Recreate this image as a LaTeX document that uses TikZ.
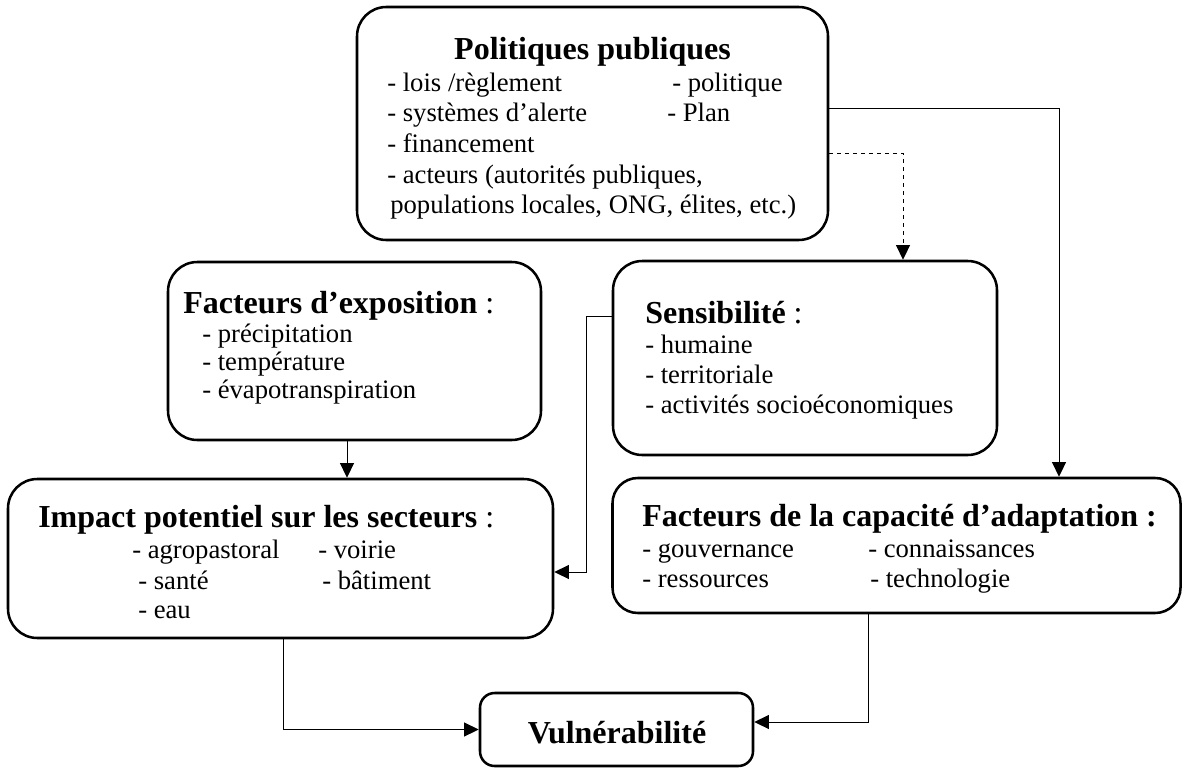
\documentclass[tikz,border=0pt]{standalone}
\usepackage{fontspec}
\setmainfont{Liberation Serif}
\usetikzlibrary{arrows.meta}
\begin{document}
\begin{tikzpicture}[x=0.75pt,y=-0.75pt,
  box/.style={draw, line width=1.9pt, rounded corners=22pt, inner sep=0pt},
  conn/.style={line width=0.75pt, -{Triangle[length=11pt,width=10.5pt]}},
  txt/.style={anchor=base west, inner sep=0pt, font=\fontsize{20}{24}\selectfont},
  ttl/.style={anchor=base west, inner sep=0pt, font=\fontsize{24}{28}\selectfont},
]
\useasboundingbox (0,0) rectangle (1184,767);
% boxes
\node[box, minimum width=353.25pt, minimum height=174.75pt] (P) at (592.5,123.5) {};
\node[box, minimum width=279.75pt, minimum height=133.5pt] (E) at (354.5,351) {};
\node[box, minimum width=288pt, minimum height=145.5pt] (S) at (805,358) {};
\node[box, minimum width=408.75pt, minimum height=119.25pt] (I) at (280.5,558.5) {};
\node[box, minimum width=426pt, minimum height=101.25pt, rounded corners=19pt] (C) at (896.5,545.5) {};
\node[box, minimum width=204.75pt, minimum height=54.75pt, rounded corners=11pt] (V) at (616.5,729.5) {};
% Politiques
\node[ttl, anchor=base] (Pt) at (592.5,60) {\textbf{Politiques publiques}};
\node[txt] (P1) at (387,91) {- lois /règlement};
\node[txt] (P2) at (672,91) {- politique};
\node[txt] (P3) at (387,121) {- systèmes d’alerte};
\node[txt] (P4) at (667,121) {- Plan};
\node[txt] (P5) at (387,152) {- financement};
\node[txt] (P6) at (387,183) {- acteurs (autorités publiques,};
\node[txt] (P7) at (390,213) {populations locales, ONG, élites, etc.)};
% Exposition
\node[ttl] (Et) at (183,313) {\textbf{Facteurs d’exposition} :};
\node[txt] (E1) at (202,342) {- précipitation};
\node[txt] (E2) at (202,370) {- température};
\node[txt] (E3) at (202,398) {- évapotranspiration};
% Sensibilite
\node[ttl] (St) at (645,323) {\textbf{Sensibilité} :};
\node[txt] (S1) at (645,353) {- humaine};
\node[txt] (S2) at (645,383) {- territoriale};
\node[txt] (S3) at (645,413) {- activités socioéconomiques};
% Impact
\node[ttl] (It) at (38,527) {\textbf{Impact potentiel sur les secteurs} :};
\node[txt] (I1) at (132,558) {- agropastoral};
\node[txt] (I2) at (318,558) {- voirie};
\node[txt] (I3) at (138,589) {- santé};
\node[txt] (I4) at (322,589) {- bâtiment};
\node[txt] (I5) at (138,618) {- eau};
% Capacite
\node[ttl] (Ct) at (642,526) {\textbf{Facteurs de la capacité d’adaptation :}};
\node[txt] (C1) at (642,557) {- gouvernance};
\node[txt] (C2) at (868,557) {- connaissances};
\node[txt] (C3) at (642,587) {- ressources};
\node[txt] (C4) at (870,587) {- technologie};
% Vulnerabilite
\node[ttl, anchor=base] (Vt) at (617,743) {\textbf{Vulnérabilité}};
% connectors
\draw[conn] ([yshift=11.625pt]P.east) -| ([xshift=121.875pt]C.north);
\draw[conn, dashed] ([yshift=-22.125pt]P.east) -| ([xshift=73.5pt]S.north);
\draw[conn] ([xshift=-5.625pt]E.south) -- ([xshift=-5.625pt]E.south |- I.north);
\draw[conn] ([yshift=31.5pt]S.west) -- ++(-25,0) |- ([yshift=-10.125pt]I.east);
\draw[conn] ([xshift=1.875pt]I.south) |- (V.west);
\draw[conn] ([xshift=-21.375pt]C.south) |- ([yshift=5.625pt]V.east);
\end{tikzpicture}
\end{document}
